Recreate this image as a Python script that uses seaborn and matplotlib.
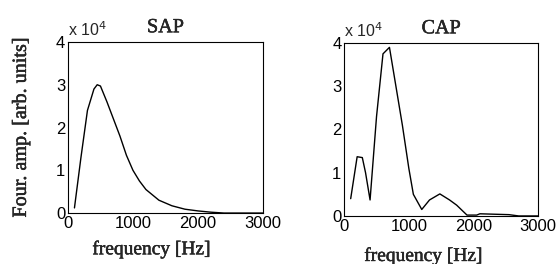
import numpy as np
import pandas as pd
import matplotlib
matplotlib.use("Agg")
import matplotlib.pyplot as plt
import matplotlib.patheffects as pe
import seaborn as sns

# spectra, amplitude in units of 1e4
sap_freq = [100, 200, 300, 400, 450, 500, 600, 700, 800, 900, 1000, 1100, 1200,
            1400, 1600, 1800, 2000, 2200, 2400, 2600, 2800, 3000]
sap_amp = [0.12, 1.3, 2.4, 2.9, 3.0, 2.97, 2.6, 2.2, 1.8, 1.35, 1.0, 0.75, 0.55,
           0.3, 0.17, 0.09, 0.05, 0.02, 0.0, 0.0, 0.0, 0.0]

cap_freq = [100, 200, 280, 330, 400, 500, 600, 700, 800, 900, 1000, 1070, 1200,
            1320, 1480, 1630, 1740, 1900, 2050, 2100, 2550, 2700, 3000]
cap_amp = [0.4, 1.37, 1.35, 1.0, 0.37, 2.3, 3.75, 3.9, 3.0, 2.1, 1.1, 0.5, 0.15,
           0.37, 0.51, 0.37, 0.25, 0.02, 0.02, 0.05, 0.03, 0.0, 0.0]

titles = ["SAP", "CAP"]
xticks = [0, 1000, 2000, 3000]
yticks = [0, 1, 2, 3, 4]

sns.set_style("white")
plt.rcParams['font.family'] = ['Liberation Sans', 'DejaVu Sans']

fig = plt.figure(figsize=(5.57, 2.64), dpi=100)
ax1 = fig.add_axes([0.122, 0.193, 0.350, 0.648])
ax2 = fig.add_axes([0.618, 0.182, 0.348, 0.655])

# scanned look: thicken the serif text a little
thick = [pe.withStroke(linewidth=0.3, foreground="black")]
serif = dict(family='Liberation Serif', path_effects=thick)

panels = [(ax1, sap_freq, sap_amp, titles[0], (0.43, -0.16)),
          (ax2, cap_freq, cap_amp, titles[1], (0.41, -0.18))]
for ax, fx, amp, title, lab_xy in panels:
    df = pd.DataFrame({"freq": fx, "amp": amp})
    sns.lineplot(data=df, x="freq", y="amp", ax=ax, color="black", linewidth=1.0)
    ax.set_xlim(0, 3000)
    ax.set_ylim(0, 4)
    ax.set_xticks(xticks)
    ax.set_yticks(yticks)
    ax.tick_params(labelsize=12, direction='in', length=2, pad=2, colors="black")
    for s in ax.spines.values():
        s.set_color("black")
        s.set_linewidth(0.8)
    ax.set_xlabel("frequency [Hz]", fontsize=14, **serif)
    ax.xaxis.set_label_coords(*lab_xy)
    ax.set_ylabel("")
    ax.set_title(title, fontsize=14.5, pad=7, **serif)
    ax.text(0.0, 1.02, r"x 10$^4$", transform=ax.transAxes, fontsize=11.5,
            ha='left', va='bottom')

ax1.set_ylabel("Four. amp. [arb. units]", fontsize=14.5, **serif)
ax1.yaxis.set_label_coords(-0.19, 0.5)

fig.savefig("out.png", dpi=100)
